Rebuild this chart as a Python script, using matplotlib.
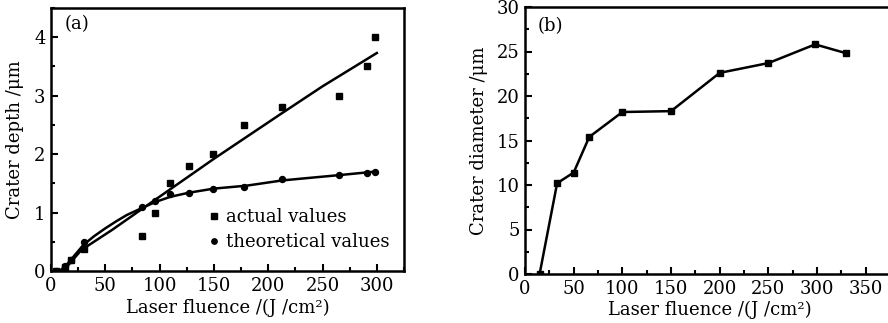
import matplotlib
matplotlib.use("Agg")
import matplotlib.pyplot as plt
from matplotlib.ticker import MultipleLocator

plt.rcParams["font.family"] = ["DejaVu Serif"]
plt.rcParams["font.size"] = 13

# panel (a): crater depth vs laser fluence
a_x = [5, 13, 18, 30, 84, 96, 110, 127, 149, 178, 213, 265, 291, 298]
a_actual = [0, 0.07, 0.18, 0.38, 0.6, 1.0, 1.5, 1.8, 2.0, 2.5, 2.8, 3.0, 3.5, 4.0]
a_theory = [0, 0.08, 0.19, 0.49, 1.1, 1.2, 1.32, 1.34, 1.41, 1.43, 1.57, 1.64, 1.67, 1.69]

# fit curves
fit_lin_x = [8, 15, 28, 56, 96, 150, 211, 250, 300]
fit_lin_y = [0, 0.08, 0.36, 0.70, 1.22, 1.92, 2.68, 3.16, 3.73]
fit_th_x = [8, 15, 20, 30, 40, 50, 60, 70, 84, 96, 110, 127, 150, 180, 213, 265, 298]
fit_th_y = [0, 0.12, 0.23, 0.45, 0.60, 0.73, 0.85, 0.96, 1.08, 1.18, 1.27, 1.34, 1.41, 1.46, 1.55, 1.64, 1.70]

# panel (b): crater diameter vs laser fluence
b_x = [15, 33, 50, 66, 100, 150, 200, 250, 298, 330]
b_d = [0, 10.2, 11.4, 15.4, 18.2, 18.3, 22.6, 23.7, 25.8, 24.8]

fig = plt.figure(figsize=(8.88, 3.23), dpi=100)
ax1 = fig.add_axes([51 / 888, 52 / 323, 353 / 888, 263 / 323])
ax2 = fig.add_axes([525 / 888, 49 / 323, 370 / 888, 267 / 323])


def style(ax):
    for s in ax.spines.values():
        s.set_linewidth(1.8)
    ax.tick_params(which="both", direction="in", top=False, right=False, width=1.5)
    ax.tick_params(which="major", length=5)
    ax.tick_params(which="minor", length=3)
    ax.tick_params(axis="x", which="major", pad=4)
    ax.tick_params(axis="y", which="major", pad=4)


# (a)
ax1.plot(fit_lin_x, fit_lin_y, color="black", lw=1.8)
ax1.plot(fit_th_x, fit_th_y, color="black", lw=1.8)
ax1.plot(a_x, a_actual, "s", color="black", ms=4.3, ls="none", label="actual values")
ax1.plot(a_x, a_theory, "o", color="black", ms=4.3, ls="none", label="theoretical values")
ax1.set_xlim(0, 325)
ax1.set_ylim(0, 4.5)
ax1.xaxis.set_major_locator(MultipleLocator(50))
ax1.xaxis.set_minor_locator(MultipleLocator(25))
ax1.yaxis.set_major_locator(MultipleLocator(1))
ax1.yaxis.set_minor_locator(MultipleLocator(0.5))
ax1.set_xlabel("Laser fluence /(J /cm²)", labelpad=3)
ax1.set_ylabel("Crater depth /μm", labelpad=7)
ax1.text(0.04, 0.94, "(a)", transform=ax1.transAxes, va="center", ha="left")
ax1.legend(loc="upper left", bbox_to_anchor=(0.45, 0.24), frameon=False,
           handlelength=0.5, handletextpad=0.4, borderaxespad=0, borderpad=0,
           labelspacing=0.4, markerscale=0.9)
style(ax1)

# (b)
ax2.plot(b_x, b_d, "-s", color="black", lw=1.8, ms=4)
ax2.set_xlim(0, 380)
ax2.set_ylim(0, 30)
ax2.xaxis.set_major_locator(MultipleLocator(50))
ax2.xaxis.set_minor_locator(MultipleLocator(25))
ax2.yaxis.set_major_locator(MultipleLocator(5))
ax2.yaxis.set_minor_locator(MultipleLocator(2.5))
ax2.set_xlabel("Laser fluence /(J /cm²)", labelpad=2)
ax2.set_ylabel("Crater diameter /μm", labelpad=6)
ax2.text(0.035, 0.93, "(b)", transform=ax2.transAxes, va="center", ha="left")
style(ax2)

fig.savefig("out.png", dpi=100)
